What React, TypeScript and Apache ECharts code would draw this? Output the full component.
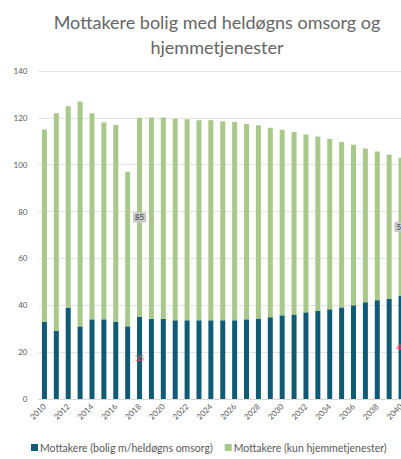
import React, { useEffect, useRef } from "react";
import * as echarts from "echarts";

const years = [
  "2010","2011","2012","2013","2014","2015","2016","2017","2018","2019",
  "2020","2021","2022","2023","2024","2025","2026","2027","2028","2029",
  "2030","2031","2032","2033","2034","2035","2036","2037","2038","2039","2040",
];
const boligValues = [
  33, 29, 39, 31, 34, 34, 33, 31, 35, 34.2,
  34.2, 33.6, 33.6, 33.6, 33.6, 33.6, 33.6, 34, 34.4, 34.9,
  35.7, 36.1, 37, 37.7, 38.3, 39.1, 40, 41.3, 42.2, 42.7, 44,
];
const hjemmeValues = [
  82, 93, 86, 96, 88, 84, 84, 66, 85, 86,
  86, 86, 85.8, 85.4, 85.4, 85, 84.6, 83.4, 82.4, 80.9,
  79.2, 77.9, 75.9, 74.3, 72.7, 70.6, 68.5, 65.6, 63.4, 61.5, 59,
];
const labelledYears = ["2018", "2040"];
const titleText = "Mottakere bolig med heldøgns omsorg og\nhjemmetjenester";
const seriesNames = ["Mottakere (bolig m/heldøgns omsorg)", "Mottakere (kun hjemmetjenester)"];

const FONT = "Lato, 'Open Sans', sans-serif";

export default function App() {
  const ref = useRef<HTMLDivElement>(null);
  useEffect(() => {
    if (!ref.current) return;
    const chart = echarts.init(ref.current, null, { renderer: "svg" });
    const mk = (vals: number[], labelStyle: any) =>
      vals.map((v, i) =>
        labelledYears.includes(years[i])
          ? { value: v, label: { show: true, ...labelStyle } }
          : v
      );
    chart.setOption({
      animation: false,
      textStyle: { fontFamily: FONT },
      title: {
        text: titleText,
        left: 212,
        top: 4,
        textAlign: "center",
        textStyle: {
          fontFamily: FONT,
          fontSize: 18,
          fontWeight: "normal",
          color: "#666666",
          lineHeight: 25,
        },
      },
      legend: {
        bottom: 1,
        left: 26,
        itemWidth: 7,
        itemHeight: 7,
        itemGap: 12,
        icon: "rect",
        textStyle: { fontSize: 10.5, color: "#595959", fontFamily: FONT, padding: [0, 0, 0, -3] },
        data: seriesNames,
      },
      grid: { left: 38.5, right: 3, top: 71, bottom: 60, containLabel: false },
      xAxis: {
        type: "category",
        data: years,
        axisLine: { show: true, lineStyle: { color: "#d9d9d9" } },
        axisTick: { show: false },
        axisLabel: {
          interval: 1,
          rotate: 45,
          fontSize: 8,
          color: "#595959",
          margin: 6,
        },
      },
      yAxis: {
        type: "value",
        min: 0,
        max: 140,
        interval: 20,
        axisLine: { show: false },
        axisTick: { show: false },
        axisLabel: { fontSize: 8, color: "#595959", margin: 11 },
        splitLine: { lineStyle: { color: "#e3e3e3" } },
      },
      series: [
        {
          name: seriesNames[0],
          type: "bar",
          stack: "total",
          barWidth: 5,
          itemStyle: { color: "#0f5b76" },
          label: { show: false, position: "inside", color: "#ff4d4d", fontSize: 8 },
          data: mk(boligValues, { color: "#ff4d4d", fontSize: 8 }),
        },
        {
          name: seriesNames[1],
          type: "bar",
          stack: "total",
          barWidth: 5,
          itemStyle: { color: "#a9c98a" },
          label: { show: false, position: "inside", fontSize: 8 },
          data: mk(hjemmeValues, {
            color: "#404040",
            fontSize: 8,
            backgroundColor: "#c8c8c8",
            padding: [1, 2],
          }),
        },
      ],
    });
    return () => chart.dispose();
  }, []);
  return (
    <div
      style={{ position: "fixed", left: 0, top: 0, width: 401, height: 459, overflow: "hidden", background: "#fff" }}
    >
      <div ref={ref} style={{ width: 410, height: 459 }} />
    </div>
  );
}
